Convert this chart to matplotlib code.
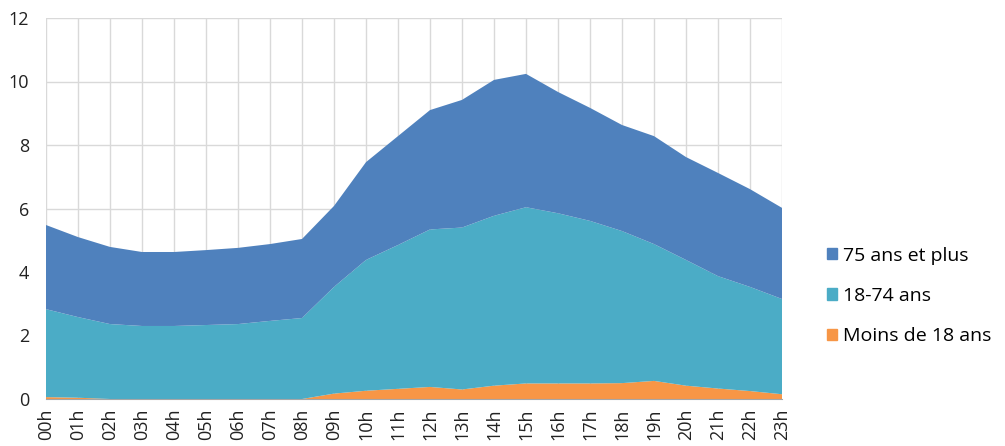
import matplotlib.pyplot as plt
from matplotlib.patches import Patch

plt.rcParams['font.family'] = ['Open Sans', 'DejaVu Sans']

hours = ['%02dh' % h for h in range(24)]
labels = ['Moins de 18 ans', '18-74 ans', '75 ans et plus']
colors = ['#F79646', '#4BACC6', '#4F81BD']

moins_18 = [0.06, 0.04, 0.0, 0.0, 0.0, 0.0, 0.0, 0.0, 0.0, 0.17, 0.26, 0.32,
            0.38, 0.30, 0.42, 0.49, 0.49, 0.49, 0.50, 0.57, 0.42, 0.33, 0.25, 0.15]
ans_18_74 = [2.77, 2.54, 2.36, 2.30, 2.30, 2.33, 2.36, 2.46, 2.55, 3.36, 4.12, 4.53,
             4.96, 5.10, 5.35, 5.55, 5.36, 5.12, 4.79, 4.31, 3.96, 3.54, 3.28, 3.00]
plus_75 = [2.65, 2.52, 2.43, 2.33, 2.33, 2.36, 2.40, 2.42, 2.49, 2.55, 3.08, 3.43,
           3.76, 4.02, 4.28, 4.20, 3.82, 3.56, 3.34, 3.40, 3.24, 3.25, 3.08, 2.87]

fig = plt.figure(figsize=(10.05, 4.46), dpi=100)
ax = fig.add_axes([46 / 1005, 47 / 446, 736 / 1005, 381 / 446])

x = list(range(len(hours)))
ax.stackplot(x, moins_18, ans_18_74, plus_75, colors=colors, linewidth=0, zorder=2)

ax.set_xlim(0, 23)
ax.set_ylim(0, 12)
ax.set_yticks(range(0, 13, 2))
ax.set_xticks(x)
ax.set_xticklabels(hours, rotation=90)
ax.grid(True, color='#D9D9D9', linewidth=1, zorder=0)
ax.set_axisbelow(True)
ax.tick_params(length=0, labelsize=13, colors='#222222')
ax.tick_params(axis='y', pad=12)
ax.tick_params(axis='x', pad=7)
for s in ['top', 'right', 'left']:
    ax.spines[s].set_visible(False)
ax.spines['bottom'].set_color('#A6A6A6')
ax.spines['bottom'].set_zorder(3)

handles = [Patch(color=c, label=l) for c, l in zip(colors, labels)][::-1]
fig.legend(handles=handles, loc='center left', bbox_to_anchor=(827 / 1005, 1 - 296 / 446),
           frameon=False, fontsize=14, labelspacing=1.15, handlelength=0.52,
           handleheight=0.52, handletextpad=0.3, borderpad=0, borderaxespad=0)

fig.savefig('out.png', dpi=100)
